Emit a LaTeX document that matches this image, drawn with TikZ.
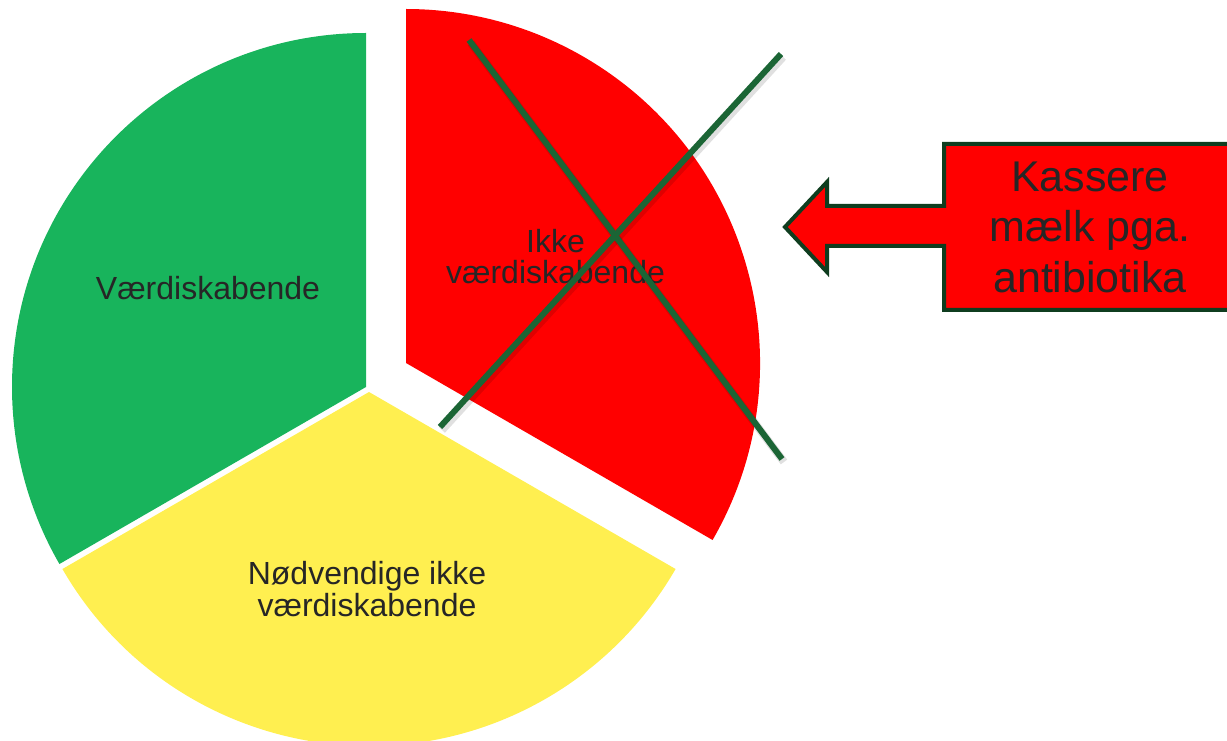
\documentclass[tikz,border=0pt]{standalone}
\usepackage{fontspec}
\setmainfont{Liberation Sans}
\definecolor{pgreen}{HTML}{18B45C}
\definecolor{pyellow}{HTML}{FFEF50}
\definecolor{pred}{HTML}{FF0000}
\definecolor{crossgreen}{HTML}{1B6535}
\definecolor{edgegreen}{HTML}{0F3D1F}
\definecolor{labeltext}{HTML}{262626}
\tikzset{
  slicelabel/.style={text=labeltext, align=center, inner sep=0pt,
    font=\fontsize{32}{31.7}\selectfont},
  calloutlabel/.style={text=labeltext, align=center, inner sep=0pt,
    font=\fontsize{43}{50.7}\selectfont},
  crossline/.style={draw=crossgreen, line width=6pt},
  crossshadow/.style={draw=black, opacity=0.12, line width=8pt},
  callout/.style={fill=pred, draw=edgegreen, line width=4pt}
}
\begin{document}
\begin{tikzpicture}[x=1pt,y=1pt]
  \useasboundingbox (0,0) rectangle (1227,740);
  \clip (0,0) rectangle (1227,740);

  % pie: three equal slices, the red one pulled out
  \fill[pgreen]  (366,353) -- ++(90:354)  arc[start angle=90,  end angle=210, radius=354] -- cycle;
  \fill[pyellow] (369,348) -- ++(210:354) arc[start angle=210, end angle=330, radius=354] -- cycle;
  \fill[pred]    (406,377) -- ++(-30:354) arc[start angle=-30, end angle=90,  radius=354] -- cycle;

  \node[slicelabel] (lgreen)  at (208,451.5) {Værdiskabende};
  \node[slicelabel] (lyellow) at (367,151)   {Nødvendige ikke\\værdiskabende};
  \node[slicelabel] (lred)    at (555.5,483.3) {Ikke\\værdiskabende};

  % cross over the red slice
  \coordinate (xa1) at (469,700);
  \coordinate (xa2) at (782,281);
  \coordinate (xb1) at (781,686);
  \coordinate (xb2) at (440,313);
  \draw[crossshadow] ([shift={(2,-3)}]xa1) -- ([shift={(2,-3)}]xa2);
  \draw[crossshadow] ([shift={(2,-3)}]xb1) -- ([shift={(2,-3)}]xb2);
  \draw[crossline] (xa1) -- (xa2);
  \draw[crossline] (xb1) -- (xb2);

  % left arrow callout
  \draw[callout] (785,513) -- (827,558) -- (827,534) -- (944,534) -- (944,596)
    -- (1240,596) -- (1240,430) -- (944,430) -- (944,494) -- (827,494)
    -- (827,468) -- cycle;
  \node[calloutlabel] (ltext) at (1090,512.7) {Kassere\\mælk pga.\\antibiotika};
\end{tikzpicture}
\end{document}
